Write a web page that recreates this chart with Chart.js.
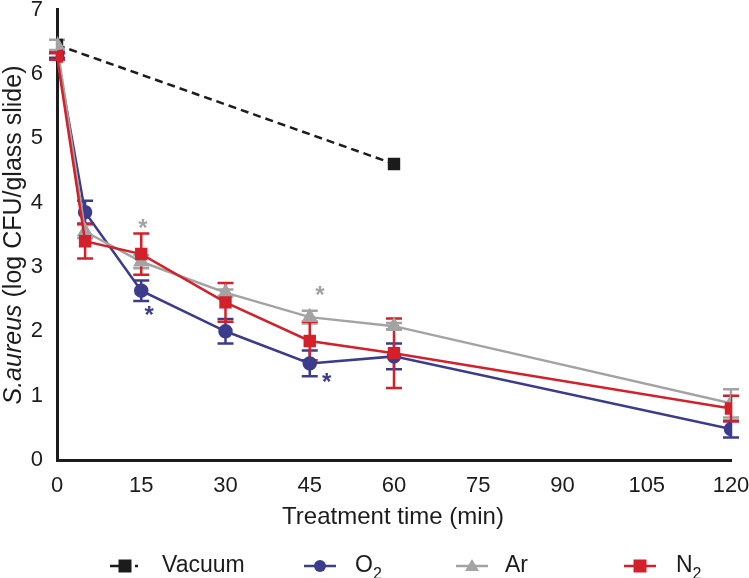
<!DOCTYPE html>
<html>
<head>
<meta charset="utf-8">
<script src="https://cdn.jsdelivr.net/npm/chart.js@4.4.1/dist/chart.umd.min.js"></script>
<style>
  html, body { margin: 0; padding: 0; background: #fff; }
  #wrap { width: 749px; height: 578px; }
</style>
</head>
<body>
<div id="wrap"><canvas id="chart" width="749" height="578"></canvas></div>
<script>
// data
var times = [0, 5, 15, 30, 45, 60, 120];
var vacuumTimes = [0, 60];
var vacuum = [6.45, 4.6];
var o2 = [6.3, 3.85, 2.63, 2.0, 1.5, 1.61, 0.48];
var o2Err = [0.05, 0.18, 0.16, 0.19, 0.2, 0.2, 0.13];
var ar = [6.45, 3.55, 3.08, 2.6, 2.22, 2.08, 0.88];
var arErr = [0.08, 0.1, 0.1, 0.05, 0.1, 0.05, 0.22];
var n2 = [6.27, 3.4, 3.2, 2.45, 1.85, 1.66, 0.8];
var n2Err = [0.05, 0.27, 0.32, 0.3, 0.3, 0.54, 0.2];
// significance marks
var starX = [15.3, 16.4, 46.8, 48];
var starY = [3.65, 2.3, 2.6, 1.26];
var starSet = [2, 1, 2, 1];

var xTicks = [0, 15, 30, 45, 60, 75, 90, 105, 120];
var yTicks = [0, 1, 2, 3, 4, 5, 6, 7];
var legendNames = ['Vacuum', 'O', 'Ar', 'N'];
var legendSubs = ['', '2', '', '2'];

var FONT = '"Liberation Sans", Arial, sans-serif';
var BLACK = '#1c1c1c', NAVY = '#3c3c8c', GREY = '#a3a3a3', RED = '#d3202a';

function pts(xs, ys) {
    var out = [];
    for (var i = 0; i < xs.length; i++) out.push({x: xs[i], y: ys[i]});
    return out;
}

var errs = [null, o2Err, arErr, n2Err];

// error bars, under the markers
var errorBars = {
    id: 'errorBars',
    beforeDatasetsDraw: function(chart) {
        var ctx = chart.ctx, xs = chart.scales.x, ys = chart.scales.y;
        ctx.save();
        for (var d = 1; d < 4; d++) {
            var ds = chart.data.datasets[d];
            ctx.strokeStyle = ds.borderColor;
            ctx.lineWidth = 2.5;
            for (var i = 0; i < ds.data.length; i++) {
                var px = xs.getPixelForValue(ds.data[i].x);
                var top = ys.getPixelForValue(ds.data[i].y + errs[d][i]);
                var bot = ys.getPixelForValue(ds.data[i].y - errs[d][i]);
                ctx.beginPath();
                ctx.moveTo(px, top); ctx.lineTo(px, bot);
                ctx.moveTo(px - 8, top); ctx.lineTo(px + 8, top);
                ctx.moveTo(px - 8, bot); ctx.lineTo(px + 8, bot);
                ctx.stroke();
            }
        }
        ctx.restore();
    }
};

function drawMarker(ctx, style, x, y, color) {
    ctx.fillStyle = color;
    ctx.beginPath();
    if (style === 'rect') {
        ctx.rect(x - 6.5, y - 6.5, 13, 13);
    } else if (style === 'circle') {
        ctx.arc(x, y, 6, 0, Math.PI * 2);
    } else {
        ctx.moveTo(x, y - 7); ctx.lineTo(x + 7, y + 5); ctx.lineTo(x - 7, y + 5); ctx.closePath();
    }
    ctx.fill();
}

// titles, asterisks and legend
var extras = {
    id: 'extras',
    afterDraw: function(chart) {
        var ctx = chart.ctx, xs = chart.scales.x, ys = chart.scales.y;
        ctx.save();
        // asterisks
        ctx.font = 'bold 24px ' + FONT;
        ctx.textAlign = 'center';
        ctx.textBaseline = 'middle';
        for (var i = 0; i < starX.length; i++) {
            ctx.fillStyle = chart.data.datasets[starSet[i]].borderColor;
            ctx.fillText('*', xs.getPixelForValue(starX[i]), ys.getPixelForValue(starY[i]) + 4);
        }
        // x title
        ctx.fillStyle = BLACK;
        ctx.font = '24px ' + FONT;
        ctx.fillText('Treatment time (min)', 393, 517);
        // y title with italic species name
        ctx.translate(14, 235);
        ctx.rotate(-Math.PI / 2);
        var p1 = 'S.aureus', p2 = ' (log CFU/glass slide)';
        ctx.font = 'italic 25px ' + FONT;
        var w1 = ctx.measureText(p1).width;
        ctx.font = '25px ' + FONT;
        var w2 = ctx.measureText(p2).width;
        var sx = -(w1 + w2) / 2;
        ctx.textAlign = 'left';
        ctx.font = 'italic 25px ' + FONT;
        ctx.fillText(p1, sx, 0);
        ctx.font = '25px ' + FONT;
        ctx.fillText(p2, sx + w1, 0);
        ctx.restore();

        // legend
        ctx.save();
        var markX = [125, 320, 472, 640];
        var textX = [162, 355, 505, 676];
        var ly = 566;
        for (var k = 0; k < legendNames.length; k++) {
            var ds = chart.data.datasets[k];
            ctx.strokeStyle = ds.borderColor;
            ctx.lineWidth = 2.5;
            ctx.beginPath();
            if (ds.borderDash) {
                ctx.moveTo(markX[k] - 15, ly); ctx.lineTo(markX[k], ly);
                ctx.moveTo(markX[k] + 10, ly); ctx.lineTo(markX[k] + 13, ly);
            } else {
                ctx.moveTo(markX[k] - 16, ly); ctx.lineTo(markX[k] + 16, ly);
            }
            ctx.stroke();
            drawMarker(ctx, ds.pointStyle, markX[k], ly, ds.borderColor);
            ctx.fillStyle = BLACK;
            ctx.textAlign = 'left';
            ctx.textBaseline = 'middle';
            ctx.font = '23px ' + FONT;
            ctx.fillText(legendNames[k], textX[k], ly);
            if (legendSubs[k]) {
                var lw = ctx.measureText(legendNames[k]).width;
                ctx.font = '16px ' + FONT;
                ctx.fillText(legendSubs[k], textX[k] + lw, ly + 9);
            }
        }
        ctx.restore();
    }
};

var context = document.getElementById('chart').getContext('2d');
var myChart = new Chart(context, {
    type: 'line',
    data: {
        datasets: [{
            label: 'Vacuum',
            data: pts(vacuumTimes, vacuum),
            borderColor: BLACK,
            backgroundColor: BLACK,
            borderWidth: 2.5,
            borderDash: [8, 5],
            pointStyle: 'rect',
            pointRadius: 7,
            order: 3
        }, {
            label: 'O2',
            data: pts(times, o2),
            borderColor: NAVY,
            backgroundColor: NAVY,
            borderWidth: 2.5,
            pointStyle: 'circle',
            pointRadius: 6,
            order: 2
        }, {
            label: 'Ar',
            data: pts(times, ar),
            borderColor: GREY,
            backgroundColor: GREY,
            borderWidth: 2.5,
            pointStyle: 'triangle',
            pointRadius: 7,
            order: 1
        }, {
            label: 'N2',
            data: pts(times, n2),
            borderColor: RED,
            backgroundColor: RED,
            borderWidth: 2.5,
            pointStyle: 'rect',
            pointRadius: 7,
            order: 0
        }]
    },
    options: {
        responsive: false,
        animation: false,
        layout: { padding: { left: 0, right: 18, top: 9, bottom: 0 } },
        plugins: { legend: { display: false }, tooltip: { enabled: false } },
        scales: {
            x: {
                type: 'linear',
                min: 0, max: 120,
                afterBuildTicks: function(s) { s.ticks = xTicks.map(function(v) { return {value: v}; }); },
                afterFit: function(s) { s.height = 118; s.paddingLeft = 0; s.paddingRight = 0; },
                grid: { display: false, drawOnChartArea: false, drawTicks: true, tickLength: 8, tickWidth: 2.5, tickColor: BLACK },
                border: { display: true, color: BLACK, width: 3 },
                ticks: { color: BLACK, font: { family: FONT, size: 22 }, padding: 5, maxRotation: 0, autoSkip: false }
            },
            y: {
                min: 0, max: 7,
                afterBuildTicks: function(s) { s.ticks = yTicks.map(function(v) { return {value: v}; }); },
                afterFit: function(s) { s.width = 57; s.paddingTop = 0; s.paddingBottom = 0; },
                grid: { display: false, drawOnChartArea: false, drawTicks: true, tickLength: 12, tickWidth: 2.5, tickColor: BLACK },
                border: { display: true, color: BLACK, width: 3 },
                ticks: { color: BLACK, font: { family: FONT, size: 22 }, padding: 2 }
            }
        }
    },
    plugins: [errorBars, extras]
});
</script>
</body>
</html>
